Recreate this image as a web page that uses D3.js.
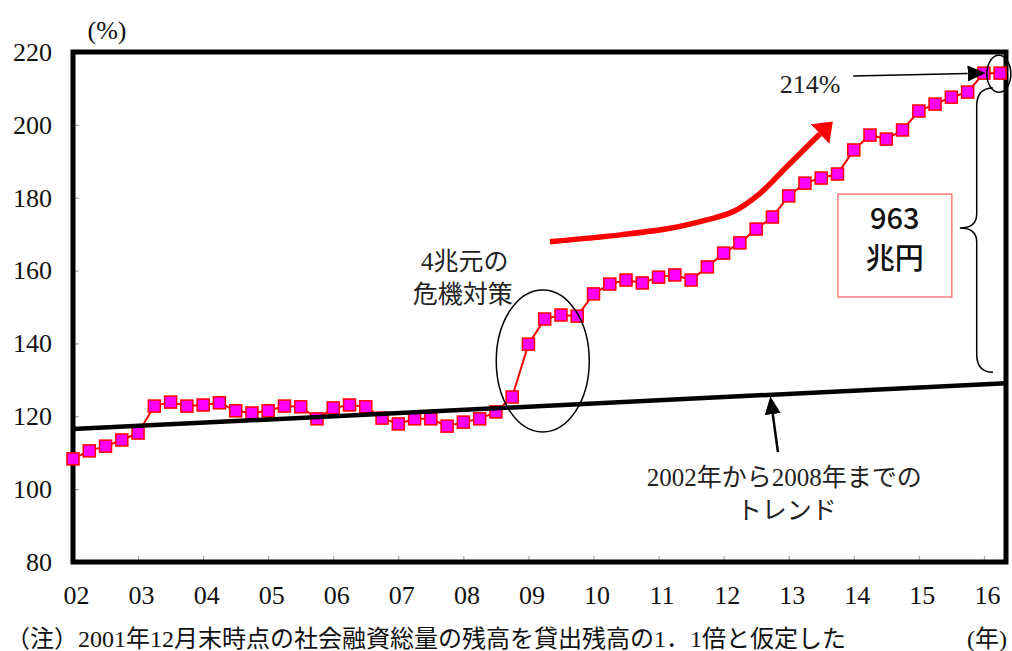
<!DOCTYPE html>
<html><head><meta charset="utf-8">
<script src="https://cdn.jsdelivr.net/npm/d3@7"></script>
<style>body{margin:0;background:#fff;} svg{display:block;}</style>
</head><body><svg id="c" width="1012" height="651"></svg>
<script>
// ---- data ----
const quarters = [
 "2002Q1","2002Q2","2002Q3","2002Q4","2003Q1","2003Q2","2003Q3","2003Q4",
 "2004Q1","2004Q2","2004Q3","2004Q4","2005Q1","2005Q2","2005Q3","2005Q4",
 "2006Q1","2006Q2","2006Q3","2006Q4","2007Q1","2007Q2","2007Q3","2007Q4",
 "2008Q1","2008Q2","2008Q3","2008Q4","2009Q1","2009Q2","2009Q3","2009Q4",
 "2010Q1","2010Q2","2010Q3","2010Q4","2011Q1","2011Q2","2011Q3","2011Q4",
 "2012Q1","2012Q2","2012Q3","2012Q4","2013Q1","2013Q2","2013Q3","2013Q4",
 "2014Q1","2014Q2","2014Q3","2014Q4","2015Q1","2015Q2","2015Q3","2015Q4",
 "2016Q1","2016Q2"];
const ratio = [
 108.3,110.5,111.8,113.5,115.4,
 122.8,123.9,122.8,123.1,123.7,
 121.5,120.9,121.5,122.8,122.6,
 119.3,122.3,123.1,122.6,119.5,
 117.9,119.3,119.3,117.3,118.4,
 119.3,121.2,125.3,139.8,146.7,
 147.8,147.5,153.6,156.3,157.4,
 156.6,158.2,158.8,157.4,161.0,
 164.8,167.6,171.4,174.7,180.5,
 184.0,185.4,186.5,193.1,197.2,
 196.1,198.6,203.8,205.7,207.6,
 209.0,214.2,214.2];
const trendYears = [2002, 2016.34];
const trendValues = [116.5, 129.1];
const yearTicks = [2002,2003,2004,2005,2006,2007,2008,2009,2010,2011,2012,2013,2014,2015,2016];
const yearLabels = ["02","03","04","05","06","07","08","09","10","11","12","13","14","15","16"];
const valueTicks = [80,100,120,140,160,180,200,220];
const redArrowPath = [[2009.33,167.9],[2010.41,169.8],[2011.18,171.6],[2011.74,173.9],[2012.15,176.2],[2012.56,181.2],[2012.97,188.5],[2013.28,194.0],[2013.48,197.5]];

// ---- setup ----
const svg = d3.select("#c");
const x = d3.scaleLinear().domain([2002, 2016.34]).range([73, 1006]);
const y = d3.scaleLinear().domain([80, 220]).range([562, 52]);
const serif = '"Liberation Serif", "Noto Sans CJK JP", serif';
const sans = '"Noto Sans CJK JP", sans-serif';
const qx = q => +q.slice(0,4) + (+q.slice(5) - 1) / 4;

const defs = svg.append("defs");
defs.append("marker").attr("id","redHead").attr("markerUnits","userSpaceOnUse")
  .attr("viewBox","0 -14 18 28").attr("refX",0).attr("refY",0)
  .attr("markerWidth",18).attr("markerHeight",28).attr("orient","auto")
  .append("path").attr("d","M0,-13.5L18,0L0,13.5Z").attr("fill","#ff0000");
defs.append("marker").attr("id","blackHead").attr("markerUnits","userSpaceOnUse")
  .attr("viewBox","0 -9 18 18").attr("refX",0).attr("refY",0)
  .attr("markerWidth",18).attr("markerHeight",18).attr("orient","auto")
  .append("path").attr("d","M0,-8L18,0L0,8Z").attr("fill","#000");

// ---- axes ----
const gy = svg.append("g").attr("transform","translate(73,0)")
  .call(d3.axisLeft(y).tickValues(valueTicks).tickSizeInner(-6).tickSizeOuter(0).tickPadding(21));
gy.select(".domain").remove();
gy.selectAll("line").attr("stroke","#999");
gy.selectAll("text").style("font-family",serif).style("font-size","26px").attr("fill","#111");

const gx = svg.append("g").attr("transform","translate(0,562)")
  .call(d3.axisBottom(x).tickValues(yearTicks).tickFormat((d,i)=>yearLabels[i]).tickSizeInner(-6).tickSizeOuter(0).tickPadding(24));
gx.select(".domain").remove();
gx.selectAll("line").attr("stroke","#999");
gx.selectAll("text").style("font-family",serif).style("font-size","26px").attr("fill","#111").attr("dx",3);

// frame
svg.append("rect").attr("x",x(2002)).attr("y",y(220))
  .attr("width",x(2016.34)-x(2002)).attr("height",y(80)-y(220))
  .attr("fill","none").attr("stroke","#000").attr("stroke-width",5);

// units
svg.append("text").attr("x",107).attr("y",y(220)-22).attr("text-anchor","middle")
  .attr("dy","0.35em").style("font-family",serif).style("font-size","26px").attr("fill","#111").text("(%)");
svg.append("text").attr("x",987).attr("y",647).attr("text-anchor","middle")
  .style("font-family",serif).style("font-size","24px").attr("fill","#111").text("(年)");
svg.append("text").attr("x",6).attr("y",647)
  .style("font-family",serif).style("font-size","24px").attr("fill","#111")
  .text("（注）2001年12月末時点の社会融資総量の残高を貸出残高の1．1倍と仮定した");

// ---- data series ----
const pts = quarters.map((q,i)=>[qx(q), ratio[i]]);
svg.append("path").datum(pts)
  .attr("d", d3.line().x(d=>x(d[0])).y(d=>y(d[1])))
  .attr("fill","none").attr("stroke","#ff0000").attr("stroke-width",2);
svg.append("g").selectAll("rect").data(pts).join("rect")
  .attr("x",d=>x(d[0])-6).attr("y",d=>y(d[1])-6).attr("width",12).attr("height",12)
  .attr("fill","#ff00ff").attr("stroke","#ff0000").attr("stroke-width",1.5);

// trend
svg.append("line").attr("x1",x(trendYears[0])).attr("y1",y(trendValues[0]))
  .attr("x2",x(trendYears[1])).attr("y2",y(trendValues[1]))
  .attr("stroke","#000").attr("stroke-width",4.5);

// ---- annotations ----
svg.append("ellipse").attr("cx",x(2009.22)).attr("cy",y(135.2)).attr("rx",46.5).attr("ry",71)
  .attr("fill","none").attr("stroke","#000").attr("stroke-width",1.5);
svg.append("text").attr("x",x(2008.02)).attr("y",y(162.6)).attr("dy","0.35em").attr("text-anchor","middle")
  .style("font-family",serif).style("font-size","25px").attr("fill","#222").text("4兆元の");
svg.append("text").attr("x",x(2007.99)).attr("y",y(153.6)).attr("dy","0.35em").attr("text-anchor","middle")
  .style("font-family",serif).style("font-size","25px").attr("fill","#222").text("危機対策");

svg.append("path").datum(redArrowPath)
  .attr("d", d3.line().x(d=>x(d[0])).y(d=>y(d[1])).curve(d3.curveCatmullRom))
  .attr("fill","none").attr("stroke","#ff0000").attr("stroke-width",5.5)
  .attr("marker-end","url(#redHead)");

svg.append("text").attr("x",x(2013.33)).attr("y",y(211.2)).attr("dy","0.35em").attr("text-anchor","middle")
  .style("font-family",serif).style("font-size","26px").attr("fill","#222").text("214%");
svg.append("line").attr("x1",x(2013.99)).attr("y1",y(213.4)).attr("x2",x(2015.75)).attr("y2",y(214.1))
  .attr("stroke","#000").attr("stroke-width",1.5).attr("marker-end","url(#blackHead)");
svg.append("ellipse").attr("cx",x(2016.23)).attr("cy",y(214.0)).attr("rx",12).attr("ry",18.5)
  .attr("fill","none").attr("stroke","#000").attr("stroke-width",1.5);

{
  const xr = x(2016.14), xm = x(2015.89), xc = x(2015.63);
  const yt = y(210.1), ym = y(171.7), yb = y(132.1);
  const d = `M${xr},${yt} Q${xm},${yt} ${xm},${yt+18} L${xm},${ym-14} Q${xm},${ym} ${xc},${ym} Q${xm},${ym} ${xm},${ym+14} L${xm},${yb-18} Q${xm},${yb} ${xr},${yb}`;
  svg.append("path").attr("d",d).attr("fill","none").attr("stroke","#000").attr("stroke-width",1.5);
}

svg.append("rect").attr("x",x(2013.757)).attr("y",y(181.0))
  .attr("width",x(2015.508)-x(2013.757)).attr("height",y(152.75)-y(181.0))
  .attr("fill","#fff").attr("stroke","#ff5a5a").attr("stroke-width",1.2);
svg.append("text").attr("x",x(2014.63)).attr("y",y(174.1)).attr("dy","0.35em").attr("text-anchor","middle")
  .style("font-family",sans).style("font-size","29px").style("font-weight",500).attr("fill","#111").text("963");
svg.append("text").attr("x",x(2014.63)).attr("y",y(163.1)).attr("dy","0.35em").attr("text-anchor","middle")
  .style("font-family",sans).style("font-size","29px").style("font-weight",500).attr("fill","#111").text("兆円");

svg.append("line").attr("x1",x(2012.835)).attr("y1",y(110.2)).attr("x2",x(2012.755)).attr("y2",y(120.6))
  .attr("stroke","#000").attr("stroke-width",2.5).attr("marker-end","url(#blackHead)");
svg.append("text").attr("x",x(2012.93)).attr("y",y(103.3)).attr("dy","0.35em").attr("text-anchor","middle")
  .style("font-family",serif).style("font-size","25px").attr("fill","#222").text("2002年から2008年までの");
svg.append("text").attr("x",x(2012.97)).attr("y",y(94.2)).attr("dy","0.35em").attr("text-anchor","middle")
  .style("font-family",serif).style("font-size","25px").attr("fill","#222").text("トレンド");
</script></body></html>
